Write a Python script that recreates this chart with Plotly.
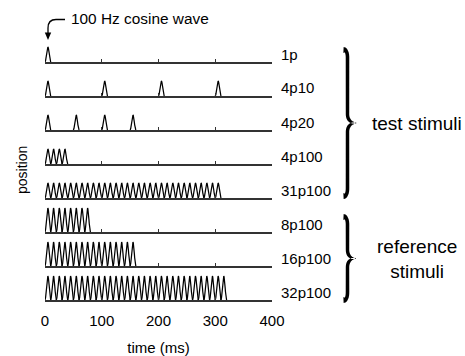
import numpy as np
import plotly.graph_objects as go

# ---- data ----
row_names = ["1p", "4p10", "4p20", "4p100", "31p100", "8p100", "16p100", "32p100"]
pulse_counts = [1, 4, 4, 4, 31, 8, 16, 32]
pulse_rates_hz = [100, 10, 20, 100, 100, 100, 100, 100]
amplitudes = [1.0, 1.0, 1.0, 1.0, 1.0, 1.6, 1.6, 1.6]
carrier_hz = 100          # each pulse = one period of a 100 Hz cosine
x_ticks = [0, 100, 200, 300, 400]
group_labels = ["test stimuli", "reference<br>stimuli"]

W, H = 465, 356
X0, X1 = 45, 272           # pixel span of 0..400 ms
BASE0, STEP = 62, 34       # baseline of first row, row spacing (px)
DOM_H = 28                 # pixel height of each row's domain
Y_MAX = 1.6 * DOM_H / 24   # 1.6 amplitude -> 24 px
FS = 15

def px(x):
    return x / W

def py(y):
    return 1 - y / H

def waveform(n, rate, amp):
    period = 1000.0 / carrier_hz
    spacing = 1000.0 / rate
    ts, ys = [], []
    for k in range(n):
        onset = k * spacing
        t = np.linspace(0, period, 21)
        ts.extend((onset + t).tolist())
        ys.extend((amp * (1 - np.cos(2 * np.pi * t / period)) / 2).tolist())
        ts.append(None)
        ys.append(None)
    return ts, ys

fig = go.Figure()
layout = dict(
    width=W, height=H, margin=dict(l=0, r=0, t=0, b=0, autoexpand=False),
    paper_bgcolor="white", plot_bgcolor="white", showlegend=False,
    font=dict(family="Arial, Liberation Sans, sans-serif", size=FS, color="black"),
)
annotations = []
for i, name in enumerate(row_names):
    b = BASE0 + STEP * i
    sfx = "" if i == 0 else str(i + 1)
    ts, ys = waveform(pulse_counts[i], pulse_rates_hz[i], amplitudes[i])
    fig.add_trace(go.Scatter(x=ts, y=ys, mode="lines", xaxis="x" + sfx, yaxis="y" + sfx,
                             line=dict(color="black", width=1.25), cliponaxis=False,
                             hoverinfo="skip"))
    last = i == len(row_names) - 1
    xa = dict(domain=[px(X0), px(X1)], range=[0, 400], anchor="y" + sfx,
              showline=True, linecolor="#333", linewidth=1.5,
              ticks="inside", ticklen=3, tickwidth=1, tickcolor="#333",
              tickvals=x_ticks, showticklabels=last, showgrid=False, zeroline=False,
              fixedrange=True, automargin=False)
    if last:
        xa.update(tickfont=dict(size=FS), ticklabelstandoff=6,
                  title=dict(text="time (ms)", font=dict(size=FS), standoff=16))
    ya = dict(domain=[py(b), py(b - DOM_H)], range=[0, Y_MAX], anchor="x" + sfx,
              visible=False, fixedrange=True, automargin=False)
    layout["xaxis" + sfx] = xa
    layout["yaxis" + sfx] = ya
    annotations.append(dict(text=name, xref="paper", yref="paper", x=px(279), y=py(b - 8),
                            xanchor="left", yanchor="middle", showarrow=False,
                            font=dict(size=FS)))

annotations += [
    dict(text=group_labels[0], xref="paper", yref="paper", x=px(417), y=py(124),
         xanchor="center", yanchor="middle", showarrow=False, font=dict(size=19)),
    dict(text=group_labels[1], xref="paper", yref="paper", x=px(417), y=py(259),
         xanchor="center", yanchor="middle", showarrow=False, font=dict(size=19)),
    dict(text="position", xref="paper", yref="paper", x=px(22), y=py(170), textangle=-90,
         xanchor="center", yanchor="middle", showarrow=False, font=dict(size=14)),
    dict(text="100 Hz cosine wave", xref="paper", yref="paper", x=px(69), y=py(19),
         xanchor="left", yanchor="middle", showarrow=False, font=dict(size=15.4)),
]
layout["annotations"] = annotations


def bez(p0, p1, p2, p3, n=24):
    t = np.linspace(0, 1, n)[:, None]
    p0, p1, p2, p3 = map(np.array, (p0, p1, p2, p3))
    return ((1 - t) ** 3 * p0 + 3 * (1 - t) ** 2 * t * p1 + 3 * (1 - t) * t ** 2 * p2 + t ** 3 * p3)


def brace_path(xs, xt, y0, y1):
    ym = (y0 + y1) / 2
    up = np.vstack([
        bez((xs - 4, y0), (xs - 1, y0), (xs, y0 + 3), (xs, y0 + 8)),
        bez((xs, y0 + 8), (xs, y0 + 20), (xs, ym - 20), (xs, ym - 9))[1:],
        bez((xs, ym - 9), (xs, ym - 3), (xt - 5, ym), (xt, ym))[1:],
    ])
    low = up[::-1].copy()
    low[:, 1] = 2 * ym - low[:, 1]
    c = np.vstack([up, low[1:]])
    n = len(c)
    s = np.linspace(0, 1, n)
    d = 1 - np.abs(1 - 2 * s)  # 0 at ends, 1 at tip
    w = np.interp(d, [0, 0.06, 0.15, 0.8, 1.0], [6.0, 5.2, 3.6, 3.4, 1.2])
    tang = np.gradient(c, axis=0)
    tang /= np.linalg.norm(tang, axis=1)[:, None]
    nrm = np.stack([-tang[:, 1], tang[:, 0]], axis=1)
    left = c + nrm * w[:, None] / 2
    right = c - nrm * w[:, None] / 2
    poly = np.vstack([left, right[::-1]])
    return "M " + " L ".join(f"{px(x):.5f},{py(y):.5f}" for x, y in poly) + " Z"


shapes = [
    dict(type="path", xref="paper", yref="paper", path=brace_path(347.5, 356, 50, 196),
         fillcolor="black", line=dict(width=0)),
    dict(type="path", xref="paper", yref="paper", path=brace_path(347.5, 355.5, 217, 300),
         fillcolor="black", line=dict(width=0)),
    # curved arrow pointing at the first pulse
    dict(type="path", xref="paper", yref="paper",
         path=f"M {px(65)},{py(19.5)} L {px(56)},{py(19.5)} Q {px(48)},{py(19.5)} {px(48)},{py(28)} L {px(48)},{py(33)}",
         line=dict(color="black", width=1.3)),
    dict(type="path", xref="paper", yref="paper",
         path=f"M {px(44.8)},{py(32.5)} L {px(51.2)},{py(32.5)} L {px(48)},{py(40)} Z",
         fillcolor="black", line=dict(width=0)),
]
layout["shapes"] = shapes

fig.update_layout(**layout)
fig.write_html("out.html", config={"displayModeBar": False},
               post_script="document.body.style.margin='0';document.body.style.overflow='hidden';")
